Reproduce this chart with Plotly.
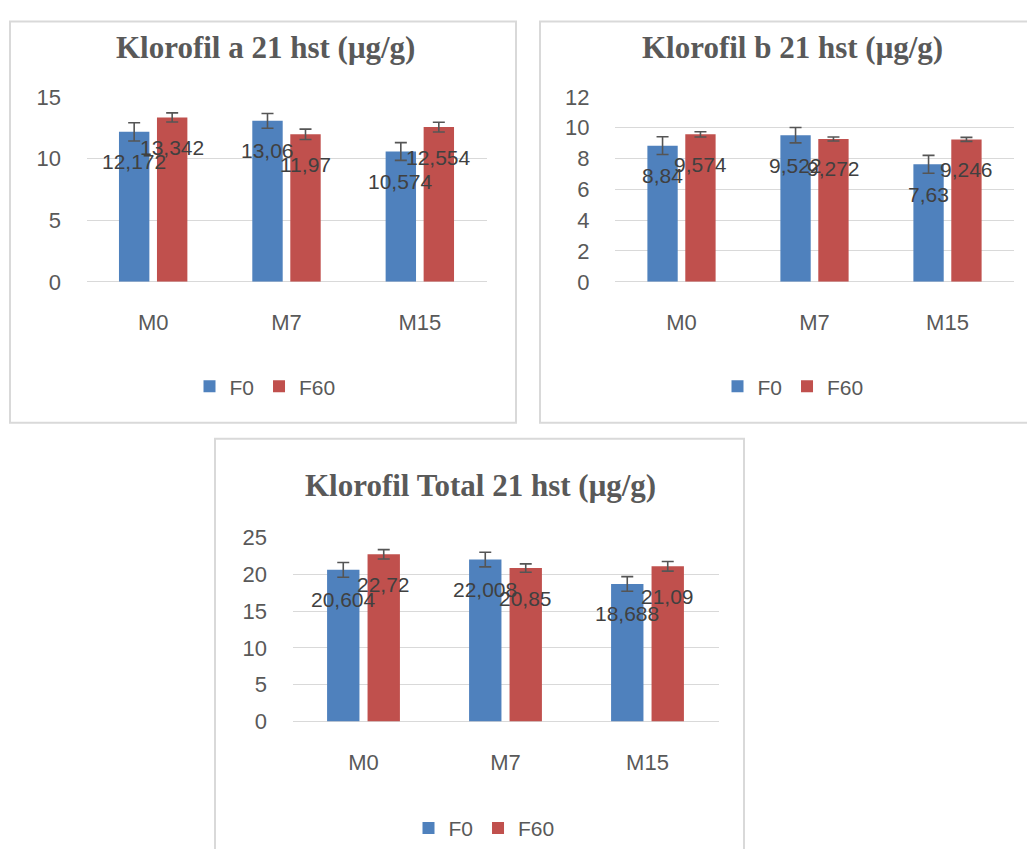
import plotly.graph_objects as go

# ---------------- data ----------------
categories = ["M0", "M7", "M15"]
series_names = ["F0", "F60"]

a_f0 = [12.172, 13.06, 10.574]
a_f60 = [13.342, 11.97, 12.554]
a_f0_err = [0.74, 0.60, 0.72]
a_f60_err = [0.37, 0.42, 0.40]

b_f0 = [8.84, 9.522, 7.63]
b_f60 = [9.574, 9.272, 9.246]
b_f0_err = [0.58, 0.50, 0.58]
b_f60_err = [0.17, 0.13, 0.13]

t_f0 = [20.604, 22.008, 18.688]
t_f60 = [22.72, 20.85, 21.09]
t_f0_err = [1.0, 1.0, 1.0]
t_f60_err = [0.64, 0.57, 0.66]

titles = ["Klorofil a 21 hst (μg/g)", "Klorofil b 21 hst (μg/g)", "Klorofil Total 21 hst (μg/g)"]
yticks_a = [0, 5, 10, 15]
yticks_b = [0, 2, 4, 6, 8, 10, 12]
yticks_t = [0, 5, 10, 15, 20, 25]

# ---------------- style ----------------
PAGE_OFF = 8            # page body margin
W, H = 1035 - 2 * PAGE_OFF, 857 - 2 * PAGE_OFF
Y_A, Y_S = 12.2, 0.97   # observed vertical mapping of the photographed page
BLUE, RED = "#4f81bd", "#c0504d"
GRID = "#d9d9d9"
TXT = "#595959"
LBL = "#404040"
SANS = "Liberation Sans"
SERIF = "Liberation Serif"
BARGAP, GROUPGAP = 0.43, 0.2

def fx(px):
    return (px - PAGE_OFF) / W

def fy(py):
    page = (py - Y_A) / Y_S
    return 1 - (page - PAGE_OFF) / H

panels = [
    dict(f0=a_f0, f60=a_f60, e0=a_f0_err, e60=a_f60_err, ticks=yticks_a, title=titles[0],
         plot=(86.5, 486.5, 97, 282), box=(10, 516, 9, 423), title_xy=(265, 47), leg_xy=(265, 387)),
    dict(f0=b_f0, f60=b_f60, e0=b_f0_err, e60=b_f60_err, ticks=yticks_b, title=titles[1],
         plot=(615, 1014, 97, 282), box=(540, 1040, 9, 423), title_xy=(792, 47), leg_xy=(793, 387)),
    dict(f0=t_f0, f60=t_f60, e0=t_f0_err, e60=t_f60_err, ticks=yticks_t, title=titles[2],
         plot=(292.5, 718.5, 538, 722), box=(215, 744, 439, 900), title_xy=(480, 486), leg_xy=(484, 829)),
]

fig = go.Figure()
annotations = []
shapes = []
layout_axes = {}

for i, p in enumerate(panels, start=1):
    sfx = "" if i == 1 else str(i)
    xref, yref = "x" + sfx, "y" + sfx
    legname = "legend" + sfx
    for name, vals, errs, col in ((series_names[0], p["f0"], p["e0"], BLUE),
                                  (series_names[1], p["f60"], p["e60"], RED)):
        fig.add_trace(go.Bar(
            x=categories, y=vals, name=name, marker=dict(color=col, line=dict(width=0)),
            error_y=dict(type="data", array=errs, visible=True, color="#555555", thickness=1.6, width=6),
            xaxis=xref, yaxis=yref, legend=legname, showlegend=True,
        ))
    x0, x1, y0, y1 = p["plot"]
    layout_axes["xaxis" + sfx] = dict(
        domain=[fx(x0), fx(x1)], anchor=yref, type="category", showgrid=False, showline=False,
        zeroline=False, ticks="outside", ticklen=0, tickcolor="rgba(0,0,0,0)", ticklabelstandoff=21,
        tickfont=dict(family=SANS, size=22, color=TXT),
    )
    layout_axes["yaxis" + sfx] = dict(
        domain=[fy(y1), fy(y0)], anchor=xref, range=[0, p["ticks"][-1]], tickvals=p["ticks"],
        showgrid=True, gridcolor=GRID, gridwidth=1.3, zeroline=True, zerolinecolor=GRID, zerolinewidth=1.3,
        showline=False, ticks="outside", ticklen=0, tickcolor="rgba(0,0,0,0)", ticklabelstandoff=20,
        tickfont=dict(family=SANS, size=22, color=TXT),
    )
    # data labels
    cat_px = (x1 - x0) / len(categories)
    shift = cat_px * (1 - BARGAP) / 4
    for vals, sgn in ((p["f0"], -1), (p["f60"], 1)):
        for c, v in zip(categories, vals):
            annotations.append(dict(
                x=c, y=v, xref=xref, yref=yref, text=str(v).replace(".", ","), showarrow=False,
                xshift=sgn * shift, yshift=-30, font=dict(family=SANS, size=21, color=LBL),
            ))
    # title
    tx, ty = p["title_xy"]
    annotations.append(dict(
        x=fx(tx), y=fy(ty), xref="paper", yref="paper", text="<b>" + p["title"] + "</b>",
        showarrow=False, xanchor="center", yanchor="middle",
        font=dict(family=SERIF, size=31, color=TXT),
    ))
    # border
    bx0, bx1, by0, by1 = p["box"]
    shapes.append(dict(type="rect", xref="paper", yref="paper",
                       x0=fx(bx0), x1=fx(bx1), y0=fy(by1), y1=min(fy(by0), 1 - 1.5 / H),
                       line=dict(color=GRID, width=2), fillcolor="rgba(0,0,0,0)", layer="below"))
    # legend
    lx, ly = p["leg_xy"]
    layout_axes[legname] = dict(
        orientation="h", x=fx(lx), y=fy(ly), xanchor="center", yanchor="middle",
        font=dict(family=SANS, size=21, color=TXT), bgcolor="rgba(0,0,0,0)",
        itemwidth=30, tracegroupgap=0, traceorder="normal",
    )

fig.update_layout(
    width=W, height=H, margin=dict(l=0, r=0, t=0, b=0),
    paper_bgcolor="white", plot_bgcolor="white",
    barmode="group", bargap=BARGAP, bargroupgap=GROUPGAP,
    annotations=annotations, shapes=shapes, **layout_axes,
)

fig.write_html("out.html")
